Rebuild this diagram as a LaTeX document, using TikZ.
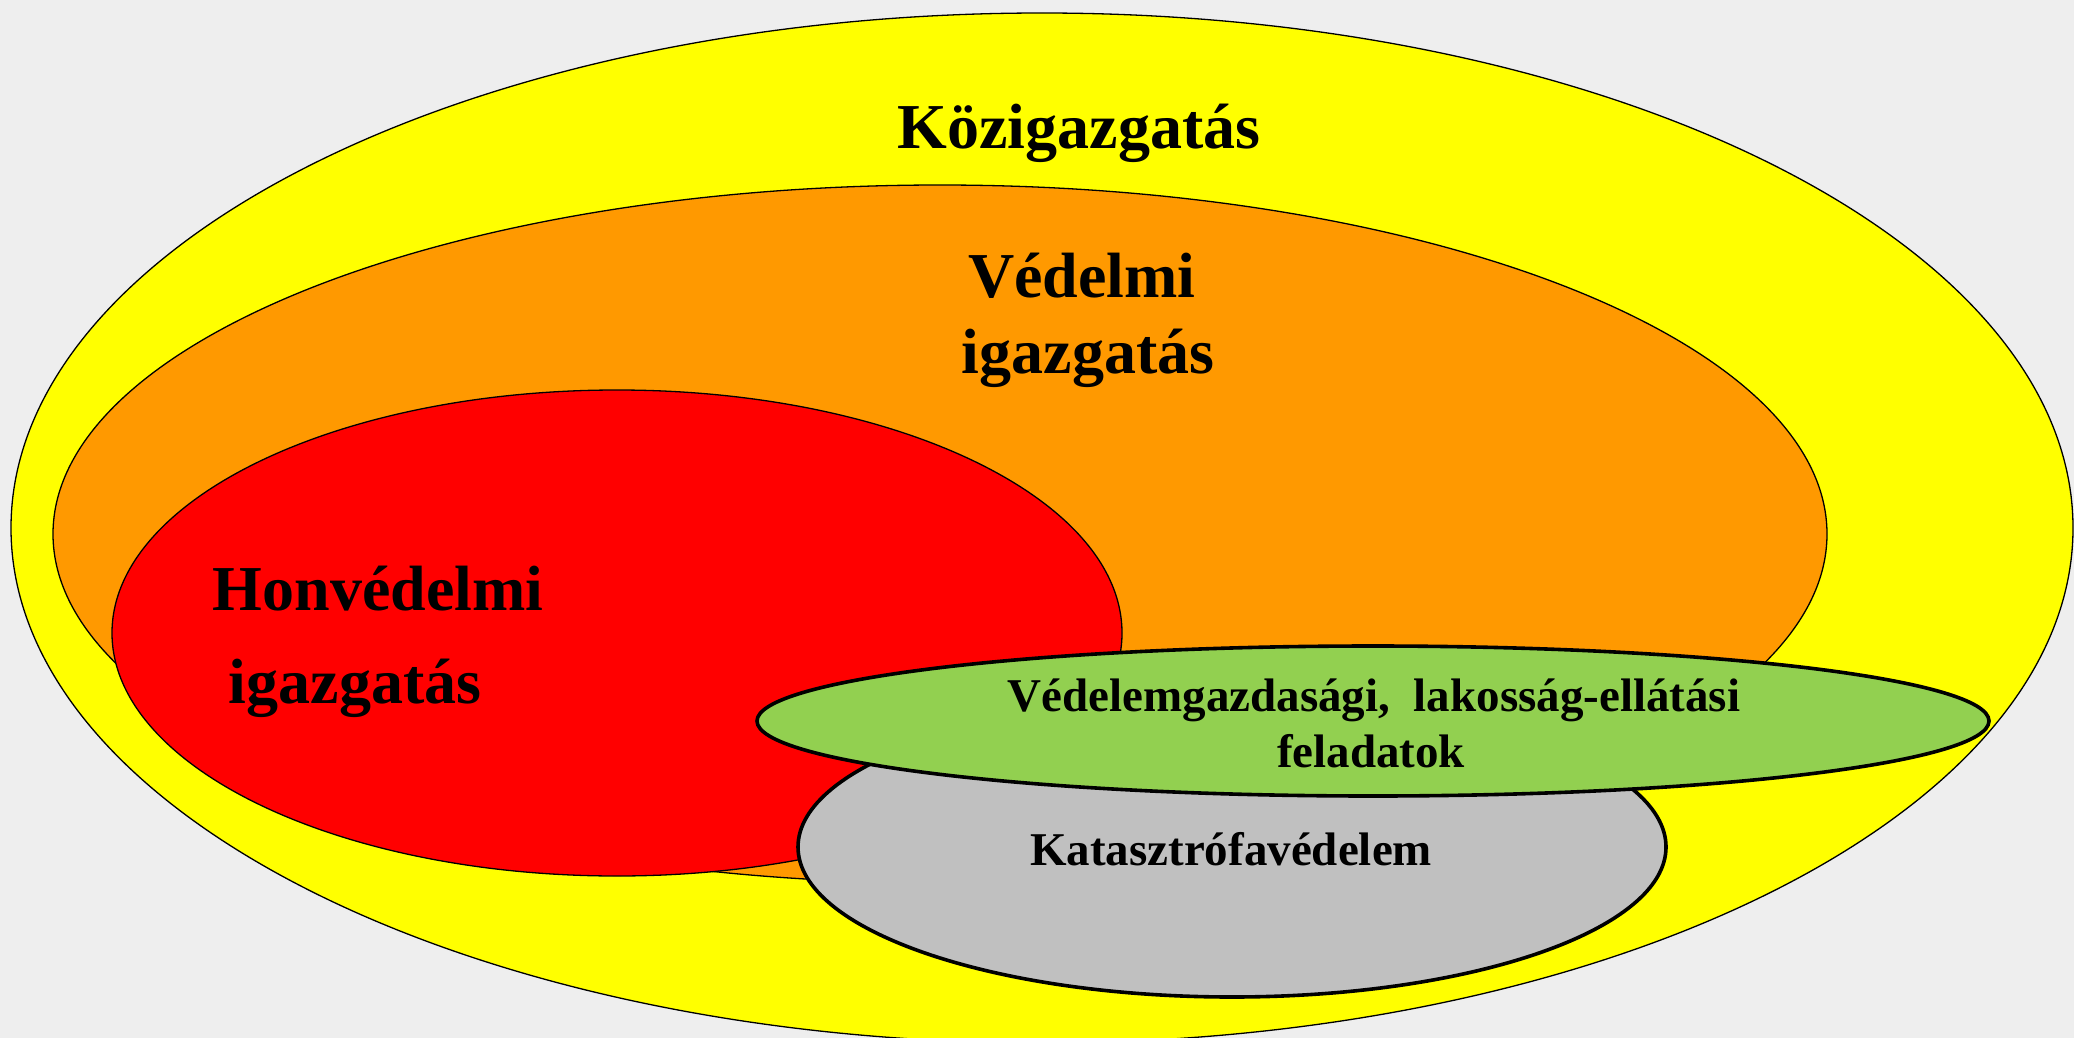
\documentclass[tikz,border=0pt]{standalone}
\usepackage{fontspec}
\setmainfont{Liberation Serif}
\usetikzlibrary{shapes.geometric}
\definecolor{bgray}{HTML}{EEEEEE}
\definecolor{kyellow}{HTML}{FFFF00}
\definecolor{vorange}{HTML}{FF9900}
\definecolor{hred}{HTML}{FF0000}
\definecolor{lgreen}{HTML}{92D050}
\definecolor{kgray}{HTML}{C0C0C0}

\begin{document}
\begin{tikzpicture}[x=1pt,y=-1pt,
    area/.style={ellipse,draw,inner sep=0pt,line width=1.3pt},
    heavy area/.style={area,line width=3.6pt},
    big/.style={font=\fontsize{64}{76}\selectfont\bfseries,anchor=base,inner sep=0pt},
    small/.style={font=\fontsize{47}{56}\selectfont\bfseries,anchor=base,inner sep=0pt}]
  \fill[bgray] (0,0) rectangle (2074,1038);
  \useasboundingbox (0,0) rectangle (2074,1038);
  % nested areas
  \node[area,fill=kyellow,minimum width=2062pt,minimum height=1030pt] (kozig) at (1042,528) {};
  \node[area,fill=vorange,minimum width=1774pt,minimum height=698pt] (vedelmi) at (940,534) {};
  \node[area,fill=hred,minimum width=1010pt,minimum height=486pt] (honved) at (617,633) {};
  \node[heavy area,fill=kgray,minimum width=868pt,minimum height=300pt] (katv) at (1232,847) {};
  \node[heavy area,fill=lgreen,minimum width=1232pt,minimum height=150pt] (vgazd) at (1373,721) {};
  % labels
  \node[big] (kozig text) at (1079,149) {Közigazgatás};
  \node[big] (vedelmi text1) at (1082,297) {Védelmi};
  \node[big] (vedelmi text2) at (1088,373) {igazgatás};
  \node[big] (honved text1) at (378,610) {Honvédelmi};
  \node[big] (honved text2) at (355,703) {igazgatás};
  \node[small] (vgazd text1) at (1374,711) {Védelemgazdasági,\ \ lakosság-ellátási};
  \node[small] (vgazd text2) at (1371,767) {feladatok};
  \node[small] (katv text) at (1231,865) {Katasztrófavédelem};
\end{tikzpicture}
\end{document}
